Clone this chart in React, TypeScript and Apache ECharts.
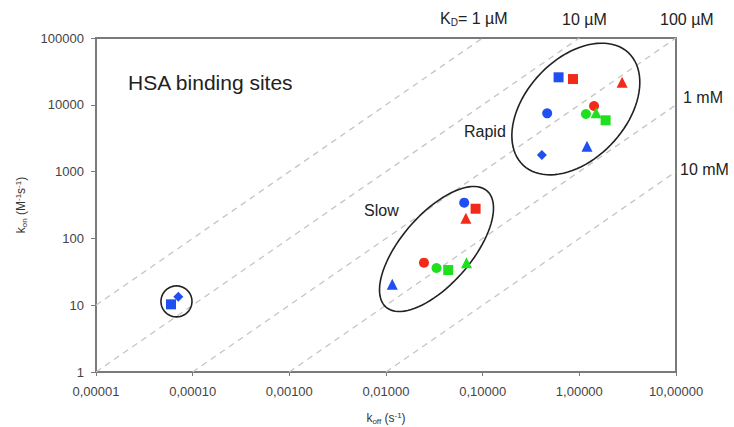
import React, { useEffect, useRef } from "react";
import * as echarts from "echarts";

// Axis ranges
const X_MIN = 1e-5;
const X_MAX = 10;
const Y_MIN = 1;
const Y_MAX = 100000;

// Series: [koff (s^-1), kon (M^-1 s^-1)]
const blueSquare = [[0.61, 25800], [5.97e-5, 10.3]];
const redSquare = [[0.86, 24300], [0.0845, 278]];
const redTriangle = [[2.77, 21700], [0.067, 200]];
const redCircle = [[1.42, 9600], [0.0247, 43.3]];
const blueCircle = [[0.465, 7460], [0.0644, 343]];
const greenCircle = [[1.17, 7280], [0.0333, 36]];
const greenTriangle = [[1.49, 7620], [0.068, 43.3]];
const greenSquare = [[1.87, 5860], [0.044, 33.6]];
const blueTriangle = [[1.2, 2390], [0.0116, 20.5]];
const blueDiamond = [[0.41, 1770], [7.1e-5, 13.4]];

// KD iso-lines (M)
const KD_VALUES = [1e-6, 1e-5, 1e-4, 1e-3, 1e-2];

// Group ellipses, centres in data units
const ELLIPSE_CENTERS = [[0.92, 8650], [0.0333, 69.4], [6.8e-5, 11.4]];
const ELLIPSE_SHAPES = [
  { a: 77, b: 50, angle: 47 },
  { a: 77, b: 35, angle: 49 },
  { a: 15.5, b: 15.5, angle: 0 },
];

const BLUE = "#1f4ff2";
const RED = "#f22a1a";
const GREEN = "#1fe01f";
const FONT = "'Liberation Sans', Arial, sans-serif";

export default function App() {
  const ref = useRef<HTMLDivElement>(null);

  useEffect(() => {
    if (!ref.current) return;
    const chart = echarts.init(ref.current, undefined, { renderer: "svg" });

    const scatter = (name: string, data: number[][], color: string, symbol: string, size: number) => ({
      name,
      type: "scatter",
      data,
      symbol,
      symbolSize: size,
      itemStyle: { color, opacity: 1 },
      z: 5,
    });

    const kdLines = KD_VALUES.map((kd) => {
      const s = Math.max(X_MIN, kd * Y_MIN);
      const e = Math.min(X_MAX, kd * Y_MAX);
      return {
        type: "line",
        data: [[s, s / kd], [e, e / kd]],
        symbol: "none",
        silent: true,
        lineStyle: { color: "#c4c4c4", width: 1.3, type: [6, 5] },
        z: 1,
      };
    });

    const option: any = {
      animation: false,
      textStyle: { fontFamily: FONT },
      grid: {
        left: 96,
        right: 58,
        top: 38,
        bottom: 55,
        containLabel: false,
        outerBoundsMode: "none",
        show: true,
        borderColor: "#7a7a7a",
        borderWidth: 2,
      },
      xAxis: {
        type: "log",
        logBase: 10,
        min: X_MIN,
        max: X_MAX,
        splitLine: { show: false },
        axisLine: { lineStyle: { color: "#7a7a7a", width: 2 } },
        axisTick: { show: true, length: 4, lineStyle: { color: "#7a7a7a" } },
        axisLabel: {
          color: "#444",
          fontSize: 13,
          margin: 13,
          fontFamily: FONT,
          formatter: (v: number) => Number(v.toPrecision(3)).toFixed(5).replace(".", ","),
        },
        name: "{a|k}{s|off}{a| (s}{p|-1}{a|)}",
        nameLocation: "middle",
        nameGap: 39,
        nameTextStyle: {
          rich: {
            a: { fontSize: 12, color: "#333", fontFamily: FONT },
            s: { fontSize: 8, color: "#333", verticalAlign: "bottom", padding: [6, 0, 0, 0], fontFamily: FONT },
            p: { fontSize: 8, color: "#333", verticalAlign: "top", padding: [0, 0, 6, 0], fontFamily: FONT },
          },
        },
      },
      yAxis: {
        type: "log",
        logBase: 10,
        min: Y_MIN,
        max: Y_MAX,
        splitLine: { show: false },
        axisLine: { lineStyle: { color: "#7a7a7a", width: 2 } },
        axisTick: { show: true, length: 5, lineStyle: { color: "#7a7a7a" } },
        axisLabel: {
          color: "#444",
          fontSize: 13,
          margin: 12,
          fontFamily: FONT,
          formatter: (v: number) => String(Math.round(v)),
        },
        name: "{a|k}{s|on}{a| (M}{p|-1}{a|s}{p|-1}{a|)}",
        nameLocation: "middle",
        nameGap: 68,
        nameTextStyle: {
          rich: {
            a: { fontSize: 12, color: "#333", fontFamily: FONT },
            s: { fontSize: 8, color: "#333", verticalAlign: "bottom", padding: [6, 0, 0, 0], fontFamily: FONT },
            p: { fontSize: 8, color: "#333", verticalAlign: "top", padding: [0, 0, 6, 0], fontFamily: FONT },
          },
        },
      },
      series: [
        ...kdLines,
        {
          type: "custom",
          data: ELLIPSE_CENTERS.map((c, i) => [c[0], c[1], i]),
          encode: { x: 0, y: 1 },
          silent: true,
          clip: false,
          z: 3,
          renderItem: (params: any, api: any) => {
            const p = api.coord([api.value(0), api.value(1)]);
            const sh = ELLIPSE_SHAPES[api.value(2)];
            const th = (sh.angle * Math.PI) / 180;
            const pts: number[][] = [];
            const n = 90;
            for (let k = 0; k < n; k++) {
              const t = (2 * Math.PI * k) / n;
              const u = sh.a * Math.cos(t);
              const w = sh.b * Math.sin(t);
              pts.push([p[0] + u * Math.cos(th) - w * Math.sin(th), p[1] - (u * Math.sin(th) + w * Math.cos(th))]);
            }
            return {
              type: "polygon",
              shape: { points: pts },
              style: { fill: "none", stroke: "#222", lineWidth: 1.6 },
            };
          },
        },
        scatter("blueSquare", blueSquare, BLUE, "rect", 10),
        scatter("redSquare", redSquare, RED, "rect", 10),
        scatter("redTriangle", redTriangle, RED, "triangle", 11),
        scatter("redCircle", redCircle, RED, "circle", 10),
        scatter("blueCircle", blueCircle, BLUE, "circle", 10),
        scatter("greenCircle", greenCircle, GREEN, "circle", 10),
        scatter("greenTriangle", greenTriangle, GREEN, "triangle", 11),
        scatter("greenSquare", greenSquare, GREEN, "rect", 10),
        scatter("blueTriangle", blueTriangle, BLUE, "triangle", 11),
        scatter("blueDiamond", blueDiamond, BLUE, "diamond", 10),
      ],
      graphic: [
        { type: "text", left: 128, top: 72, style: { text: "HSA binding sites", font: `21px ${FONT}`, fill: "#222" } },
        { type: "text", left: 464, top: 123, style: { text: "Rapid", font: `16px ${FONT}`, fill: "#222" } },
        { type: "text", left: 364, top: 202, style: { text: "Slow", font: `16px ${FONT}`, fill: "#222" } },
        {
          type: "text",
          left: 440,
          top: 10,
          style: {
            text: "{a|K}{s|D}{a|= 1 µM}",
            rich: {
              a: { fontSize: 16, fill: "#222", fontFamily: FONT },
              s: { fontSize: 10, fill: "#222", fontFamily: FONT, verticalAlign: "bottom", padding: [8, 0, 0, 0] },
            },
          },
        },
        { type: "text", left: 562, top: 11, style: { text: "10 µM", font: `16px ${FONT}`, fill: "#222" } },
        { type: "text", left: 660, top: 11, style: { text: "100 µM", font: `16px ${FONT}`, fill: "#222" } },
        { type: "text", left: 683, top: 89, style: { text: "1 mM", font: `16px ${FONT}`, fill: "#222" } },
        { type: "text", left: 680, top: 161, style: { text: "10 mM", font: `16px ${FONT}`, fill: "#222" } },
      ],
    };

    chart.setOption(option);
    return () => chart.dispose();
  }, []);

  return (
    <div
      ref={ref}
      style={{ position: "fixed", left: 0, top: 0, width: 734, height: 427, background: "#fff" }}
    />
  );
}
